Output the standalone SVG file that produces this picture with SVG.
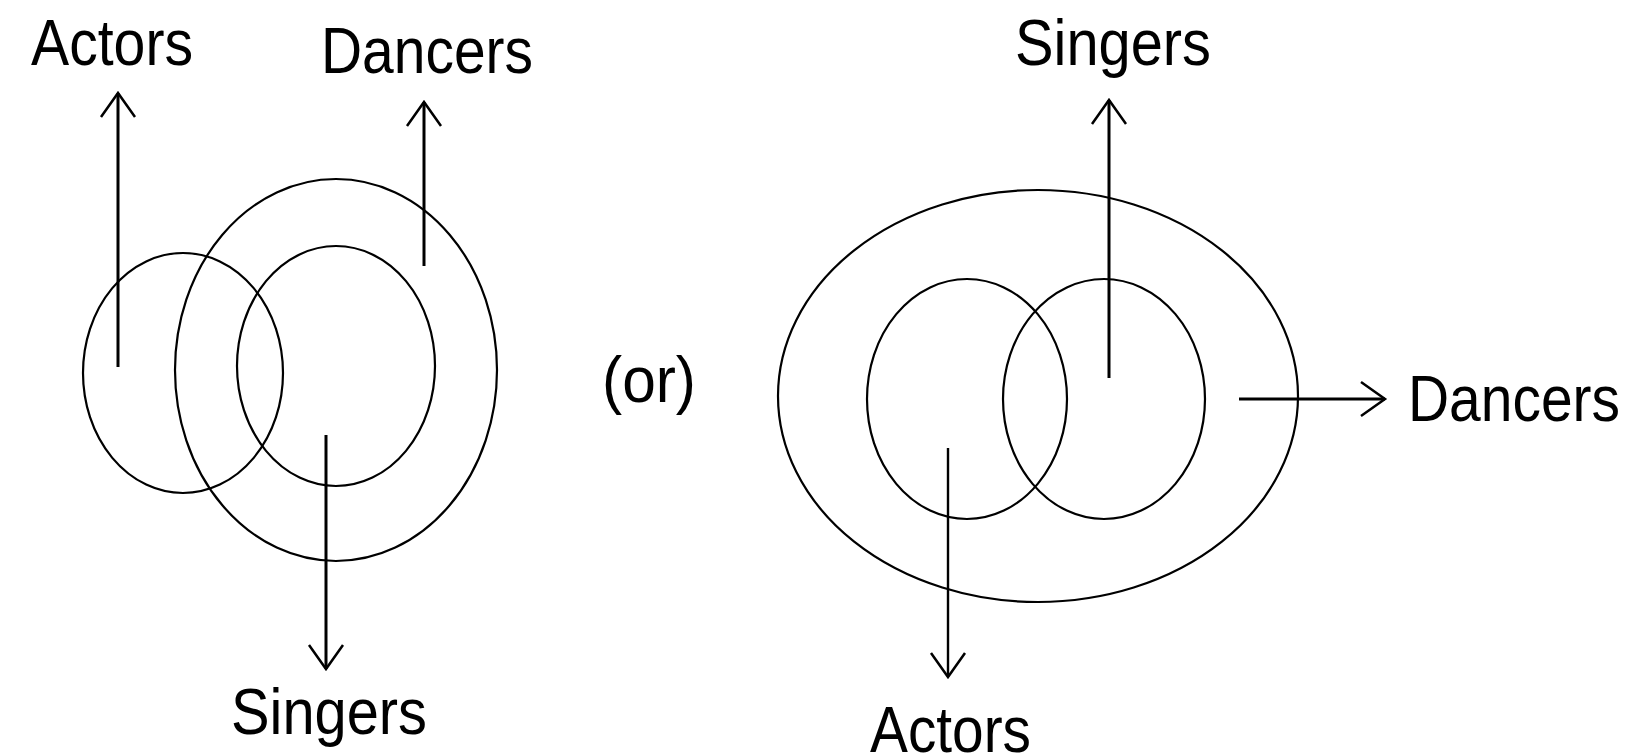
<svg xmlns="http://www.w3.org/2000/svg" width="1633" height="756" viewBox="0 0 1633 756">
<style>
.t{font-family:"Liberation Sans",Arial,sans-serif;font-size:64px;fill:#000}
.c{fill:none;stroke:#000;stroke-width:2.2}
.a{fill:none;stroke:#000;stroke-width:3;marker-end:url(#ah)}
</style>
<defs>
<marker id="ah" markerUnits="userSpaceOnUse" viewBox="-30 -20 34 40" refX="0" refY="0" markerWidth="34" markerHeight="40" orient="auto" overflow="visible">
<path d="M-24,-17 L0,0 L-24,17" fill="none" stroke="#000" stroke-width="2.5"/>
</marker>
</defs>
<rect width="1633" height="756" fill="#fff"/>
<g id="left-actors-circle"><ellipse class="c" cx="183" cy="373" rx="100" ry="120"/></g>
<g id="left-dancers-circle"><ellipse class="c" cx="336" cy="370" rx="161" ry="191"/></g>
<g id="left-singers-circle"><ellipse class="c" cx="336" cy="366" rx="99" ry="120"/></g>
<g id="right-dancers-ellipse"><ellipse class="c" cx="1038" cy="396" rx="260" ry="206"/></g>
<g id="right-actors-circle"><ellipse class="c" cx="967" cy="399" rx="100" ry="120"/></g>
<g id="right-singers-circle"><ellipse class="c" cx="1104" cy="399" rx="101" ry="120"/></g>
<g id="connectors">
<path class="a" d="M118,367 V93"/>
<path class="a" d="M424,266 V102"/>
<path class="a" d="M326,435 V669"/>
<path class="a" d="M1109,378 V100"/>
<path class="a" d="M1239,399 H1385"/>
<path class="a" d="M948,448 V677" style="stroke-width:2.4"/>
</g>
<g id="labels">
<text class="t" x="31" y="65" textLength="162" lengthAdjust="spacingAndGlyphs">Actors</text>
<text class="t" x="321" y="73" textLength="212" lengthAdjust="spacingAndGlyphs">Dancers</text>
<text class="t" x="231" y="734" textLength="196" lengthAdjust="spacingAndGlyphs">Singers</text>
<text class="t" x="602" y="402" textLength="94" lengthAdjust="spacingAndGlyphs">(or)</text>
<text class="t" x="1015" y="65" textLength="196" lengthAdjust="spacingAndGlyphs">Singers</text>
<text class="t" x="1408" y="421" textLength="212" lengthAdjust="spacingAndGlyphs">Dancers</text>
<text class="t" x="870" y="752" textLength="161" lengthAdjust="spacingAndGlyphs">Actors</text>
</g>
</svg>
